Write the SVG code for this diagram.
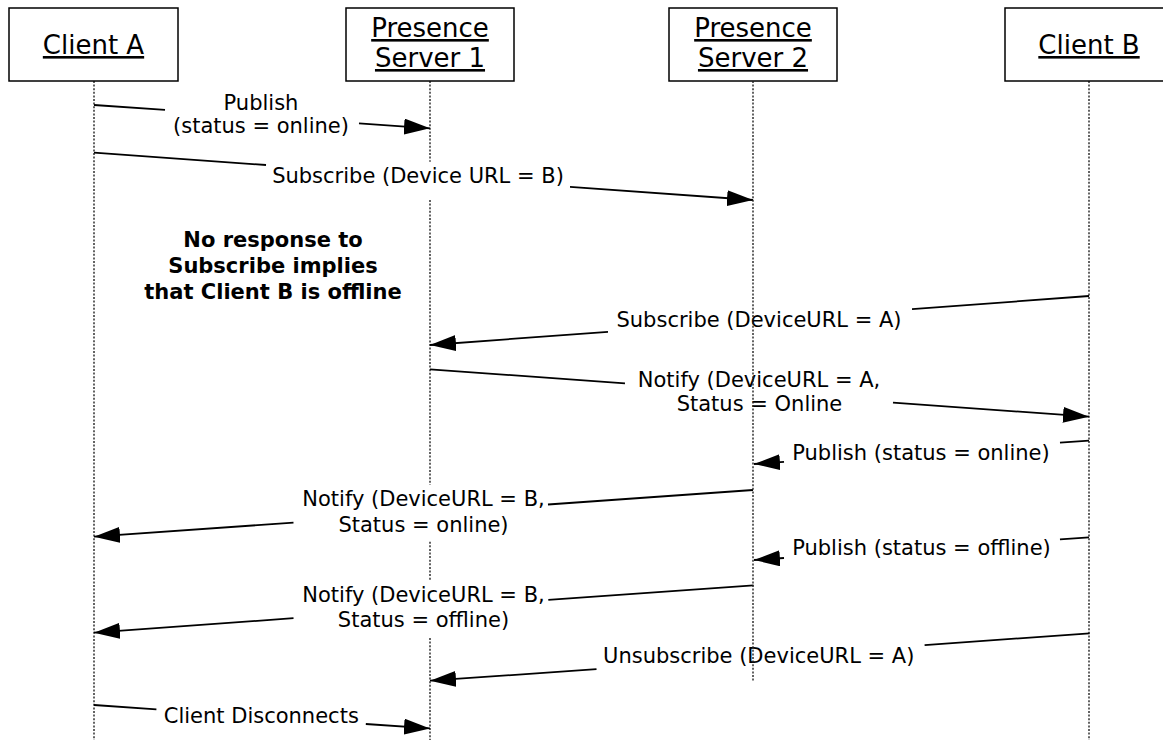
<svg xmlns="http://www.w3.org/2000/svg" width="1163" height="740" viewBox="0 0 1163 740">
<style>
.box{fill:#fff;stroke:#000;stroke-width:1.5}
.hdr{font-family:"DejaVu Sans",Verdana,sans-serif;font-size:26px;fill:#000;text-anchor:middle;text-decoration:underline}
.life{fill:none;stroke:#222;stroke-width:1.4;stroke-dasharray:2 1.6}
.msg{fill:none;stroke:#000;stroke-width:1.8}
.lbl{font-family:"DejaVu Sans",Verdana,sans-serif;font-size:21px;fill:#000;text-anchor:middle}
.note{font-family:"DejaVu Sans",Verdana,sans-serif;font-size:21px;font-weight:bold;fill:#000;text-anchor:middle}
</style>
<defs>
<marker id="ah" markerUnits="userSpaceOnUse" markerWidth="26" markerHeight="16" refX="26" refY="8" orient="auto">
<path d="M0,0 L26,8 L0,16 Z" fill="#000"/>
</marker>
</defs>
<rect width="1163" height="740" fill="#fff"/>
<g id="lifelines">
<path class="life" d="M94,81 V740"/>
<path class="life" d="M430,81 V161.7 M430,200 V485 M430,541.7 V580 M430,638 V740"/>
<path class="life" d="M1089,81 V740"/>
</g>
<g id="clientA">
<rect class="box" x="9" y="8" width="169" height="73"/>
<text class="hdr" x="93.5" y="54">Client A</text>
</g>
<g id="server1">
<rect class="box" x="346" y="8" width="168" height="73"/>
<text class="hdr" x="430" y="37">Presence</text>
<text class="hdr" x="430" y="67">Server 1</text>
</g>
<g id="server2">
<rect class="box" x="669" y="8" width="168" height="73"/>
<text class="hdr" x="753" y="37">Presence</text>
<text class="hdr" x="753" y="67">Server 2</text>
</g>
<g id="clientB">
<rect class="box" x="1005" y="8" width="170" height="73"/>
<text class="hdr" x="1089" y="54">Client B</text>
</g>
<g id="note">
<text class="note" x="273" y="247">No response to</text>
<text class="note" x="273" y="273">Subscribe implies</text>
<text class="note" x="273" y="299">that Client B is offline</text>
</g>
<g id="connectors">
<path class="msg" d="M94,105 L165,109.9"/>
<path class="msg" d="M359,123.4 L430,128.3" marker-end="url(#ah)"/>
<text class="lbl" x="261" y="110">Publish</text>
<text class="lbl" x="261" y="133.3">(status = online)</text>

<path class="msg" d="M94,152.7 L266,165"/>
<path class="msg" d="M570,186.9 L753,200" marker-end="url(#ah)"/>
<text class="lbl" x="418" y="182.7">Subscribe (Device URL = B)</text>

<path class="msg" d="M1089,296 L912,309.2"/>
<path class="msg" d="M608,331.8 L430,345" marker-end="url(#ah)"/>
<text class="lbl" x="759" y="326.7">Subscribe (DeviceURL = A)</text>

<path class="msg" d="M430,369.3 L625,383.3"/>
<path class="msg" d="M893,402.6 L1089,416.7" marker-end="url(#ah)"/>
<text class="lbl" x="759" y="386.7">Notify (DeviceURL = A,</text>
<text class="lbl" x="759.5" y="411">Status = Online</text>

<path class="msg" d="M1089,440.7 L1060,442.7"/>
<path class="msg" d="M784,461.9 L754,464" marker-end="url(#ah)"/>
<text class="lbl" x="921" y="460">Publish (status = online)</text>

<path class="msg" d="M753,490 L548,504.5"/>
<path class="msg" d="M293.5,522.6 L94,536.7" marker-end="url(#ah)"/>
<text class="lbl" x="423.5" y="506">Notify (DeviceURL = B,</text>
<text class="lbl" x="423.5" y="531.7">Status = online)</text>

<path class="msg" d="M1089,537.3 L1060,539.3"/>
<path class="msg" d="M784,558 L754,560" marker-end="url(#ah)"/>
<text class="lbl" x="921.5" y="555">Publish (status = offline)</text>

<path class="msg" d="M753.5,585.3 L548.3,599.9"/>
<path class="msg" d="M293.5,618.2 L94,632.7" marker-end="url(#ah)"/>
<text class="lbl" x="423.5" y="601.7">Notify (DeviceURL = B,</text>
<text class="lbl" x="423.5" y="627.3">Status = offline)</text>

<path class="msg" d="M1089.6,633.3 L924.6,645.2"/>
<path class="msg" d="M596.5,669.2 L430,680.7" marker-end="url(#ah)"/>
<text class="lbl" x="758.7" y="662.7">Unsubscribe (DeviceURL = A)</text>

<path class="msg" d="M94,705 L156.4,709.3"/>
<path class="msg" d="M365.8,724 L430,728.4" marker-end="url(#ah)"/>
<text class="lbl" x="261.3" y="723.3">Client Disconnects</text>
</g>
<g id="server2-lifeline">
<path class="life" d="M753,81 V682"/>
</g>
</svg>
